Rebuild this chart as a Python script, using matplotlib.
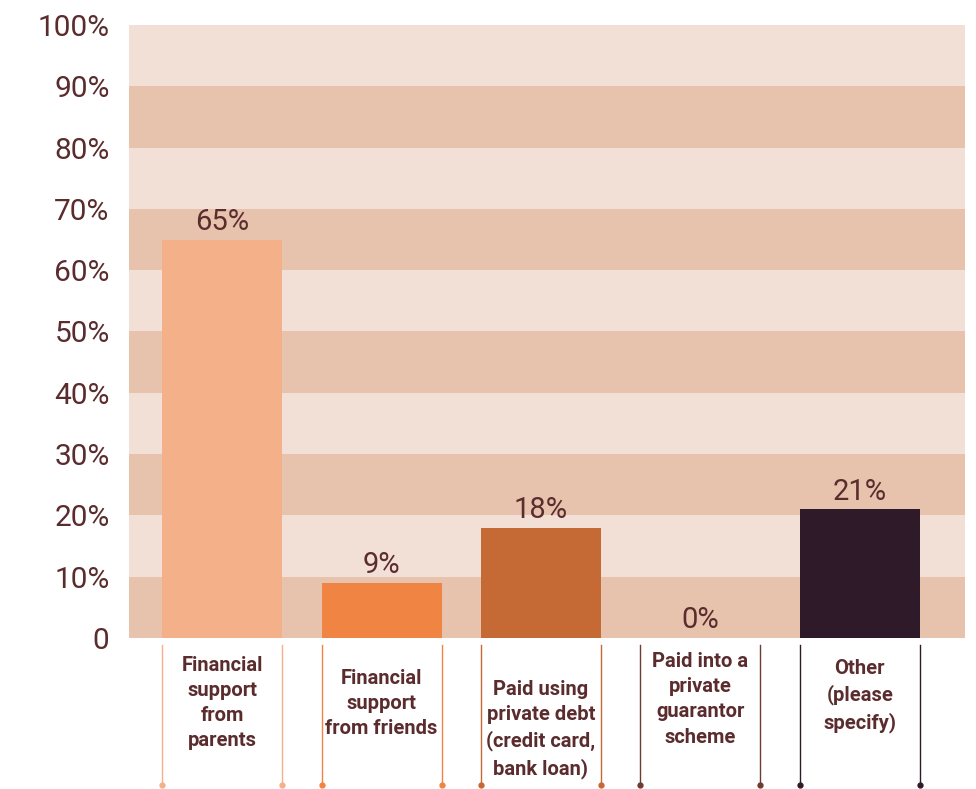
import matplotlib.pyplot as plt
from matplotlib.patches import Rectangle

categories = ["Financial\nsupport\nfrom\nparents",
              "Financial\nsupport\nfrom friends",
              "Paid using\nprivate debt\n(credit card,\nbank loan)",
              "Paid into a\nprivate\nguarantor\nscheme",
              "Other\n(please\nspecify)"]
values = [65, 9, 18, 0, 21]
colors = ["#F4B089", "#F08442", "#C56A35", "#6E3B30", "#2E1A28"]
yticks = [0, 10, 20, 30, 40, 50, 60, 70, 80, 90, 100]
ytick_labels = ["0"] + [f"{t}%" for t in yticks[1:]]

text_col = "#5B2C2E"
band_dark = "#E7C3AD"
band_light = "#F2E0D6"
# vertical centre of each category label, in data units below the axis
label_y = [-10.6, -10.7, -14.9, -10.0, -9.4]

plt.rcParams['font.family'] = ['Roboto', 'DejaVu Sans']

fig = plt.figure(figsize=(9.76, 7.89), dpi=100)
ax = fig.add_axes([0.1322, 0.1914, 0.8565, 0.7769])

x = list(range(len(values)))
width = 0.753
ax.set_xlim(-0.584, 4.66)
ax.set_ylim(0, 100)

# alternating horizontal bands behind the bars
for i, lo in enumerate(range(0, 100, 10)):
    ax.add_patch(Rectangle((0, lo), 1, 10, transform=ax.get_yaxis_transform(),
                           facecolor=band_dark if i % 2 == 0 else band_light,
                           edgecolor='none', zorder=0))

ax.bar(x, values, width=width, color=colors, zorder=2)

for xi, v in zip(x, values):
    ax.text(xi, v + 0.6, f"{v}%", ha='center', va='bottom',
            fontsize=21, color=text_col, zorder=3)

# bracket lines with dots under each bar, and the category text between them
for xi, c, lab, ly in zip(x, colors, categories, label_y):
    for ex in (xi - width / 2, xi + width / 2):
        ax.plot([ex, ex], [-1.2, -24.0], color=c, lw=1, clip_on=False)
        ax.plot(ex, -24.0, 'o', color=c, ms=3.5, clip_on=False)
    ax.text(xi, ly, lab, ha='center', va='center', fontsize=14.5,
            fontweight='bold', color=text_col, linespacing=1.42)

ax.set_yticks(yticks)
ax.set_yticklabels(ytick_labels, fontsize=21.5, color=text_col)
ax.set_xticks([])
ax.tick_params(axis='y', length=0, pad=14)
for s in ax.spines.values():
    s.set_visible(False)

fig.savefig("out.png", dpi=100)
